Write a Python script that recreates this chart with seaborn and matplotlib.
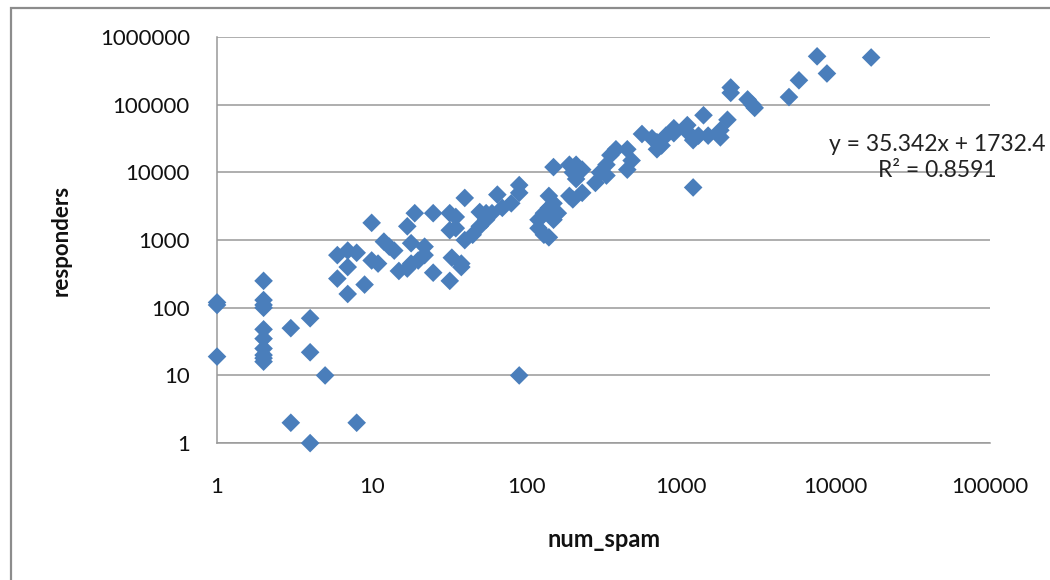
import matplotlib
matplotlib.use("Agg")
import matplotlib.pyplot as plt
import matplotlib.ticker as mticker
from matplotlib.patches import Rectangle
import seaborn as sns
import pandas as pd

num_spam = [
    1, 1, 1,
    2, 2, 2, 2, 2, 2, 2, 2, 2, 2,
    3, 3, 4, 4, 4, 5, 8, 90,
    6, 6, 7, 7, 7, 8, 9, 10, 10, 11, 12, 13, 14, 15, 17, 17, 18, 18, 19, 20,
    22, 22, 25, 25, 32, 32, 32, 33, 35, 35, 38, 38, 40, 40, 45, 50, 50, 55, 55,
    60, 65, 70, 80, 90, 90,
    120, 120, 130, 130, 140, 140, 140, 150, 150, 150, 160, 190, 190, 200, 200,
    210, 210, 230, 230, 280, 300, 330, 330, 350, 380, 450, 450, 480,
    560, 650, 700, 700, 750, 800, 900, 900, 1100, 1100, 1200, 1200, 1300, 1400,
    1500, 1800, 1800, 2000, 2100, 2100, 2700, 2900, 3000, 5000, 5800, 7600,
    8800, 17000,
]
responders = [
    110, 120, 19,
    250, 130, 110, 100, 48, 35, 25, 20, 18, 16,
    50, 2, 70, 22, 1, 10, 2, 10,
    600, 270, 700, 400, 160, 650, 220, 1800, 500, 450, 950, 800, 700, 350, 1600, 380, 900, 450, 2500, 500,
    600, 800, 2500, 330, 2500, 1400, 250, 550, 2200, 1500, 400, 450, 4200, 1000, 1200, 2600, 1600, 2000, 2500,
    2500, 4700, 3000, 3500, 6500, 5000,
    1500, 2000, 2500, 1200, 1100, 3000, 4500, 12000, 2000, 3500, 2500, 13000, 4500, 10000, 4000,
    13000, 8000, 11000, 5000, 7000, 10000, 9000, 13000, 18000, 22000, 22000, 11000, 15000,
    37000, 32000, 22000, 28000, 25000, 35000, 45000, 38000, 50000, 40000, 6000, 30000, 35000, 70000,
    35000, 42000, 33000, 60000, 180000, 150000, 120000, 100000, 90000, 130000, 230000, 520000,
    290000, 500000,
]
trend_text = "y = 35.342x + 1732.4\nR² = 0.8591"
x_ticks = [1, 10, 100, 1000, 10000, 100000]
y_ticks = [1, 10, 100, 1000, 10000, 100000, 1000000]

df = pd.DataFrame({"num_spam": num_spam, "responders": responders})

sns.set_theme(style="white")
plt.rcParams["font.family"] = ["Lato", "DejaVu Sans"]

fig = plt.figure(figsize=(10.5, 5.8), dpi=100)
fig.patches.append(Rectangle((0.0105, -0.05), 1.1, 1.036, transform=fig.transFigure,
                             fill=False, edgecolor="#8c8c8c", linewidth=1.6))
ax = fig.add_axes([0.2067, 0.236, 0.7363, 0.7])

sns.scatterplot(data=df, x="num_spam", y="responders", marker="D", s=90,
                color="#4A7EBB", edgecolor="none", ax=ax, zorder=3, clip_on=False)

ax.set_xscale("log")
ax.set_yscale("log")
ax.set_xlim(1, 100000)
ax.set_ylim(1, 1000000)
ax.set_xticks(x_ticks)
ax.set_yticks(y_ticks)
ax.xaxis.set_major_formatter(mticker.FuncFormatter(lambda v, p: f"{int(round(v))}"))
ax.yaxis.set_major_formatter(mticker.FuncFormatter(lambda v, p: f"{int(round(v))}"))
ax.xaxis.set_minor_locator(mticker.NullLocator())
ax.yaxis.set_minor_locator(mticker.NullLocator())
ax.grid(axis="y", color="#999999", linewidth=1.1)
ax.grid(axis="x", visible=False)
ax.set_axisbelow(True)
for s in ["top", "right"]:
    ax.spines[s].set_visible(False)
for s in ["left", "bottom"]:
    ax.spines[s].set_color("#999999")
    ax.spines[s].set_linewidth(1.1)
ax.tick_params(axis="both", which="major", length=6.5, width=1.1, color="#999999",
               labelsize=16, labelcolor="#111111", direction="out")
ax.tick_params(axis="x", pad=18)
ax.tick_params(axis="y", pad=13)
ax.set_xlabel("num_spam", fontsize=17, fontweight="bold", labelpad=22, color="#111111")
ax.set_ylabel("responders", fontsize=16, fontweight="bold", labelpad=20, color="#111111")
ax.text(0.8924, 0.728, trend_text, transform=fig.transFigure, ha="center", va="center",
        multialignment="center", fontsize=16.5, color="#222222", linespacing=1.3)

fig.savefig("out.png", dpi=100)
